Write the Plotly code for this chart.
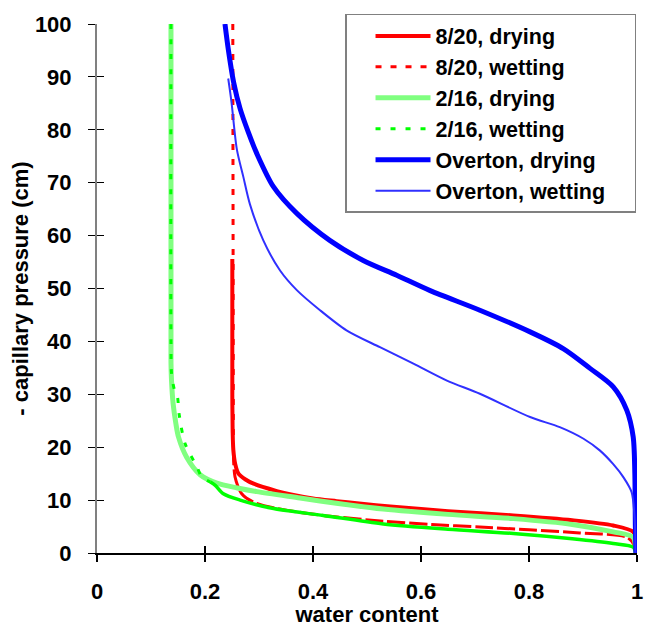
import plotly.graph_objects as go

# ---- capillary pressure curves: water content vs -capillary pressure (cm) ----

# 8/20 sand, primary drying
x_820_dry = [0.2506, 0.2506, 0.2512, 0.2525, 0.256, 0.262, 0.275, 0.29, 0.333, 0.357,
             0.40, 0.444, 0.481, 0.543, 0.65, 0.771, 0.88, 0.956, 0.993, 0.997, 0.998]
p_820_dry = [55.6, 30.0, 23.0, 19.5, 16.8, 15.0, 13.9, 13.1, 11.7, 11.1,
             10.3, 9.8, 9.4, 8.8, 7.9, 7.1, 6.2, 5.2, 4.0, 2.5, 0.0]

# 8/20 sand, wetting
x_820_wet = [0.2515, 0.2515, 0.2525, 0.2556, 0.268, 0.29, 0.333, 0.419, 0.53, 0.62,
             0.709, 0.80, 0.894, 0.981, 0.995, 0.998]
p_820_wet = [100.0, 40.0, 20.0, 14.4, 11.2, 9.6, 8.4, 7.1, 6.0, 5.4,
             4.9, 4.4, 3.8, 3.0, 1.5, 0.0]
split_820_wet = 2  # end of the near-vertical branch

# 2/16 sand, primary drying
x_216_dry = [0.137, 0.137, 0.138, 0.141, 0.146, 0.151, 0.166, 0.191, 0.222, 0.26,
             0.296, 0.376, 0.45, 0.53, 0.65, 0.771, 0.88, 0.956, 0.993, 0.997, 0.998]
p_216_dry = [100.0, 36.0, 32.6, 28.2, 24.5, 21.9, 18.1, 14.8, 13.2, 12.3,
             11.6, 10.4, 9.3, 8.3, 7.3, 6.5, 5.4, 4.0, 3.0, 1.5, 0.0]

# 2/16 sand, wetting
x_216_wet = [0.137, 0.137, 0.138, 0.143, 0.149, 0.152, 0.163, 0.185, 0.194, 0.210,
             0.219, 0.234, 0.265, 0.327, 0.419, 0.53, 0.65, 0.771, 0.88, 0.956,
             0.993, 0.998]
p_216_wet = [100.0, 40.0, 34.0, 31.0, 29.5, 26.3, 20.7, 16.3, 14.4, 13.4,
             12.8, 11.2, 10.0, 8.4, 7.1, 5.5, 4.5, 3.7, 2.7, 1.8,
             1.1, 0.0]
split_216_wet = 9  # end of the dashed upper branch

# Overton sand, primary drying
x_ov_dry = [0.237, 0.243, 0.253, 0.265, 0.280, 0.296, 0.327, 0.370, 0.431, 0.493,
            0.555, 0.617, 0.709, 0.802, 0.864, 0.913, 0.956, 0.981, 0.993,
            0.996, 0.997, 0.998]
p_ov_dry = [100.0, 95.3, 89.0, 84.0, 79.6, 75.5, 69.2, 64.2, 59.1, 55.3,
            52.5, 49.6, 45.9, 41.8, 38.6, 34.9, 31.4, 27.0, 21.9,
            15.0, 5.0, 0.0]

# Overton sand, wetting
x_ov_wet = [0.243, 0.249, 0.259, 0.271, 0.283, 0.308, 0.339, 0.370, 0.413, 0.462,
            0.524, 0.586, 0.648, 0.709, 0.802, 0.857, 0.901, 0.931, 0.956, 0.975,
            0.990, 0.996, 0.997]
p_ov_wet = [89.7, 85.3, 76.3, 71.1, 66.0, 59.1, 53.4, 49.7, 45.9, 42.1,
            38.9, 35.8, 32.6, 30.1, 25.7, 23.8, 21.6, 19.4, 16.8, 14.3,
            11.5, 6.0, 0.0]

x_ticks = [0, 0.2, 0.4, 0.6, 0.8, 1]
x_tick_labels = ["0", "0.2", "0.4", "0.6", "0.8", "1"]
y_ticks = list(range(0, 101, 10))

RED = "#FF0000"
LIGHT_GREEN = "#80FF80"
GREEN = "#00FF00"
BLUE = "#0000FF"
THIN_BLUE = "#3030FF"

SMOOTH = dict(shape="spline", smoothing=0.8)
PAD = "\u00a0" * 4  # widens the legend box to the right

fig = go.Figure()

fig.add_trace(go.Scatter(x=x_820_dry, y=p_820_dry, mode="lines", name="8/20, drying",
                         line=dict(color=RED, width=4, **SMOOTH)))
fig.add_trace(go.Scatter(x=x_820_wet[:split_820_wet + 1], y=p_820_wet[:split_820_wet + 1],
                         mode="lines", name="8/20, wetting", legendgroup="w820",
                         line=dict(color=RED, width=3, dash="6px,9px")))
fig.add_trace(go.Scatter(x=x_820_wet[split_820_wet:], y=p_820_wet[split_820_wet:],
                         mode="lines", name="8/20, wetting", legendgroup="w820",
                         showlegend=False,
                         line=dict(color=RED, width=3, dash="18px,4px", **SMOOTH)))
fig.add_trace(go.Scatter(x=x_216_dry, y=p_216_dry, mode="lines", name="2/16, drying",
                         line=dict(color=LIGHT_GREEN, width=5, **SMOOTH)))
fig.add_trace(go.Scatter(x=x_216_wet[:split_216_wet + 1], y=p_216_wet[:split_216_wet + 1],
                         mode="lines", name="2/16, wetting", legendgroup="w216",
                         line=dict(color=GREEN, width=3, dash="5px,10px", **SMOOTH)))
fig.add_trace(go.Scatter(x=x_216_wet[split_216_wet:], y=p_216_wet[split_216_wet:],
                         mode="lines", name="2/16, wetting", legendgroup="w216",
                         showlegend=False,
                         line=dict(color=GREEN, width=3.5, **SMOOTH)))
fig.add_trace(go.Scatter(x=x_ov_dry, y=p_ov_dry, mode="lines", name="Overton, drying",
                         line=dict(color=BLUE, width=5, **SMOOTH)))
# drawn on the companion axes (identical ranges) so their inner ticks render
fig.add_trace(go.Scatter(x=x_ov_wet, y=p_ov_wet, mode="lines", name="Overton, wetting" + PAD,
                         xaxis="x2", yaxis="y2",
                         line=dict(color=THIN_BLUE, width=2, **SMOOTH)))

FONT = "Liberation Sans, Arial, Helvetica, sans-serif"

fig.update_layout(
    width=649, height=627,
    margin=dict(l=97, r=12, t=24, b=74),
    paper_bgcolor="white", plot_bgcolor="white",
    font=dict(family=FONT, size=22, color="black", weight="bold"),
    showlegend=True,
    legend=dict(
        x=0.4593, y=1.019, xanchor="left", yanchor="top",
        bgcolor="white", bordercolor="#808080", borderwidth=1.5,
        font=dict(family=FONT, size=21.5, color="black", weight="bold"),
        itemwidth=55, indentation=24, tracegroupgap=0,
    ),
    xaxis=dict(
        range=[0, 1], tickvals=x_ticks, ticktext=x_tick_labels, automargin=False,
        showgrid=False, zeroline=False,
        showline=True, linecolor="black", linewidth=1.5,
        ticks="outside", ticklen=7, tickwidth=1.5, tickcolor="black",
        ticklabelstandoff=11,
        title=dict(text="water content", standoff=5,
                   font=dict(family=FONT, size=22, weight="bold")),
    ),
    yaxis=dict(
        range=[0, 100], tickvals=y_ticks, automargin=False,
        showgrid=False, zeroline=False,
        showline=True, linecolor="#808080", linewidth=2,
        ticks="outside", ticklen=7, tickwidth=1.2, tickcolor="black",
        ticklabelstandoff=12,
        title=dict(text="- capillary pressure (cm)", standoff=0,
                   font=dict(family=FONT, size=22, weight="bold")),
    ),
    # companion axes supplying the inner half of each tick mark
    xaxis2=dict(
        overlaying="x", anchor="y", side="bottom", range=[0, 1], tickvals=x_ticks,
        showticklabels=False, showgrid=False, zeroline=False, showline=False,
        ticks="inside", ticklen=7, tickwidth=1.5, tickcolor="black", automargin=False,
    ),
    yaxis2=dict(
        overlaying="y", anchor="x", side="left", range=[0, 100], tickvals=y_ticks,
        showticklabels=False, showgrid=False, zeroline=False, showline=False,
        ticks="inside", ticklen=7, tickwidth=1.2, tickcolor="black", automargin=False,
    ),
)

fig.write_html("out.html")
